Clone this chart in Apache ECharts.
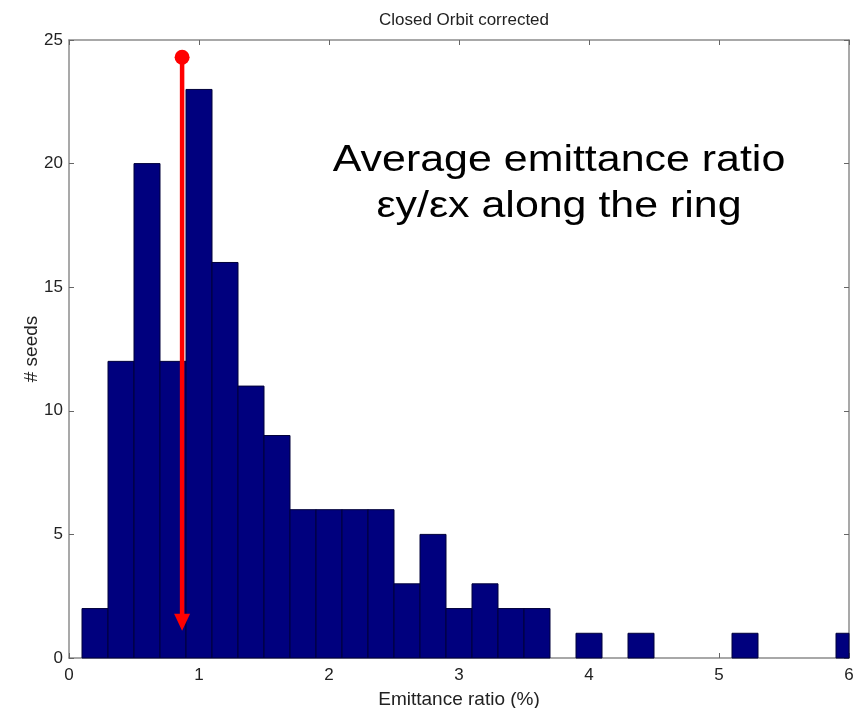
<!DOCTYPE html>
<html>
<head>
<meta charset="utf-8">
<script src="https://cdn.jsdelivr.net/npm/echarts@6/dist/echarts.min.js"></script>
<style>
  html, body { margin: 0; padding: 0; background: #fff; overflow: hidden; }
  #chart { width: 862px; height: 708px; }
</style>
</head>
<body>
<div id="chart"></div>
<script>
// Histogram of the average vertical/horizontal emittance ratio over seeds
const binCenters = [0.2, 0.4, 0.6, 0.8, 1.0, 1.2, 1.4, 1.6, 1.8, 2.0,
                    2.2, 2.4, 2.6, 2.8, 3.0, 3.2, 3.4, 3.6, 3.8, 4.0,
                    4.2, 4.4, 4.6, 4.8, 5.0, 5.2, 5.4, 5.6, 5.8, 6.0];
const seedCounts = [2, 12, 20, 12, 23, 16, 11, 9, 6, 6,
                    6, 6, 3, 5, 2, 3, 2, 2, 0, 1,
                    0, 1, 0, 0, 0, 1, 0, 0, 0, 1];
const binWidth = 0.2;
const xTicks = [0, 1, 2, 3, 4, 5, 6];
const yTicks = [0, 5, 10, 15, 20, 25];

// Marker for the average ratio: start (dot) and end (arrow tip)
const averageRatio = 0.87;
const arrowFrom = 24.3;
const arrowTo = 1.1;

const FONT = 'Liberation Sans, Arial, Helvetica, sans-serif';
const AXIS_GRAY = '#8c8c8c';

const chart = echarts.init(document.getElementById('chart'));

const histData = binCenters.map((c, i) => [c, seedCounts[i]]);
const arrowData = [[averageRatio, arrowFrom, arrowTo]];

function renderBin(params, api) {
  const c = api.value(0);
  const n = api.value(1);
  if (!n) return null;
  const p0 = api.coord([c - binWidth / 2, n]);
  const p1 = api.coord([c + binWidth / 2, 0]);
  const rect = echarts.graphic.clipRectByRect(
    { x: p0[0], y: p0[1], width: p1[0] - p0[0], height: p1[1] - p0[1] },
    { x: params.coordSys.x, y: params.coordSys.y,
      width: params.coordSys.width, height: params.coordSys.height }
  );
  if (!rect) return null;
  return {
    type: 'rect',
    shape: rect,
    style: { fill: '#00007e', stroke: '#00003a', lineWidth: 1 }
  };
}

// Vertical red arrow: round dot at the start, filled head at the end
function renderArrow(params, api) {
  const x = api.value(0);
  const start = api.coord([x, api.value(1)]);
  const tip = api.coord([x, api.value(2)]);
  const headLen = 17, headHalf = 8;
  const color = '#ff0000';
  return {
    type: 'group',
    children: [
      {
        type: 'line',
        shape: { x1: start[0], y1: start[1], x2: tip[0], y2: tip[1] - headLen + 1 },
        style: { stroke: color, lineWidth: 4.5 }
      },
      {
        type: 'polygon',
        shape: { points: [
          [tip[0] - headHalf, tip[1] - headLen],
          [tip[0] + headHalf, tip[1] - headLen],
          [tip[0], tip[1]]
        ] },
        style: { fill: color }
      },
      {
        type: 'circle',
        shape: { cx: start[0], cy: start[1], r: 7.5 },
        style: { fill: color }
      }
    ]
  };
}

const axisCommon = {
  type: 'value',
  axisLine: { show: true, onZero: false, lineStyle: { color: AXIS_GRAY, width: 1.5 } },
  axisTick: { show: true, inside: true, length: 5, lineStyle: { color: '#666', width: 1 } },
  splitLine: { show: false }
};

const option = {
  animation: false,
  backgroundColor: '#ffffff',
  title: {
    text: 'Closed Orbit corrected',
    left: 459, top: 7, textAlign: 'center',
    textStyle: { fontFamily: FONT, fontSize: 17, fontWeight: 'normal', color: '#222' }
  },
  grid: {
    left: 69, right: 13, top: 40, bottom: 50,
    containLabel: false, outerBoundsMode: 'none'
  },
  xAxis: [
    Object.assign({}, axisCommon, {
      min: 0, max: 6, interval: 1, position: 'bottom',
      name: 'Emittance ratio (%)', nameLocation: 'middle', nameGap: 32,
      nameMoveOverlap: false,
      nameTextStyle: { fontFamily: FONT, fontSize: 19, color: '#222' },
      axisLabel: { margin: 9, fontFamily: FONT, fontSize: 17, color: '#222',
                   formatter: v => xTicks.includes(v) ? String(v) : '' }
    }),
    Object.assign({}, axisCommon, {
      min: 0, max: 6, interval: 1, position: 'top',
      axisLabel: { show: false }
    })
  ],
  yAxis: [
    Object.assign({}, axisCommon, {
      min: 0, max: 25, interval: 5, position: 'left',
      name: '# seeds', nameLocation: 'middle', nameGap: 28, nameRotate: 90,
      nameMoveOverlap: false,
      nameTextStyle: { fontFamily: FONT, fontSize: 19, color: '#222' },
      axisLabel: { margin: 6, fontFamily: FONT, fontSize: 17, color: '#222',
                   formatter: v => yTicks.includes(v) ? String(v) : '' }
    }),
    Object.assign({}, axisCommon, {
      min: 0, max: 25, interval: 5, position: 'right',
      axisLabel: { show: false }
    })
  ],
  series: [
    {
      type: 'custom',
      name: 'seeds',
      xAxisIndex: 0, yAxisIndex: 0,
      renderItem: renderBin,
      encode: { x: 0, y: 1 },
      data: histData,
      silent: true
    },
    {
      type: 'custom',
      name: 'average',
      xAxisIndex: 0, yAxisIndex: 0,
      renderItem: renderArrow,
      encode: { x: 0, y: [1, 2] },
      data: arrowData,
      clip: false,
      silent: true,
      z: 5
    }
  ],
  graphic: [
    {
      type: 'text',
      x: 559, y: 161,
      scaleX: 1.16,
      style: {
        text: 'Average emittance ratio',
        font: '37px ' + FONT,
        fill: '#000',
        align: 'center',
        verticalAlign: 'middle'
      }
    },
    {
      type: 'text',
      x: 559, y: 207,
      scaleX: 1.16,
      style: {
        text: 'εy/εx along the ring',
        font: '37px ' + FONT,
        fill: '#000',
        align: 'center',
        verticalAlign: 'middle'
      }
    }
  ]
};

chart.setOption(option);
</script>
</body>
</html>
